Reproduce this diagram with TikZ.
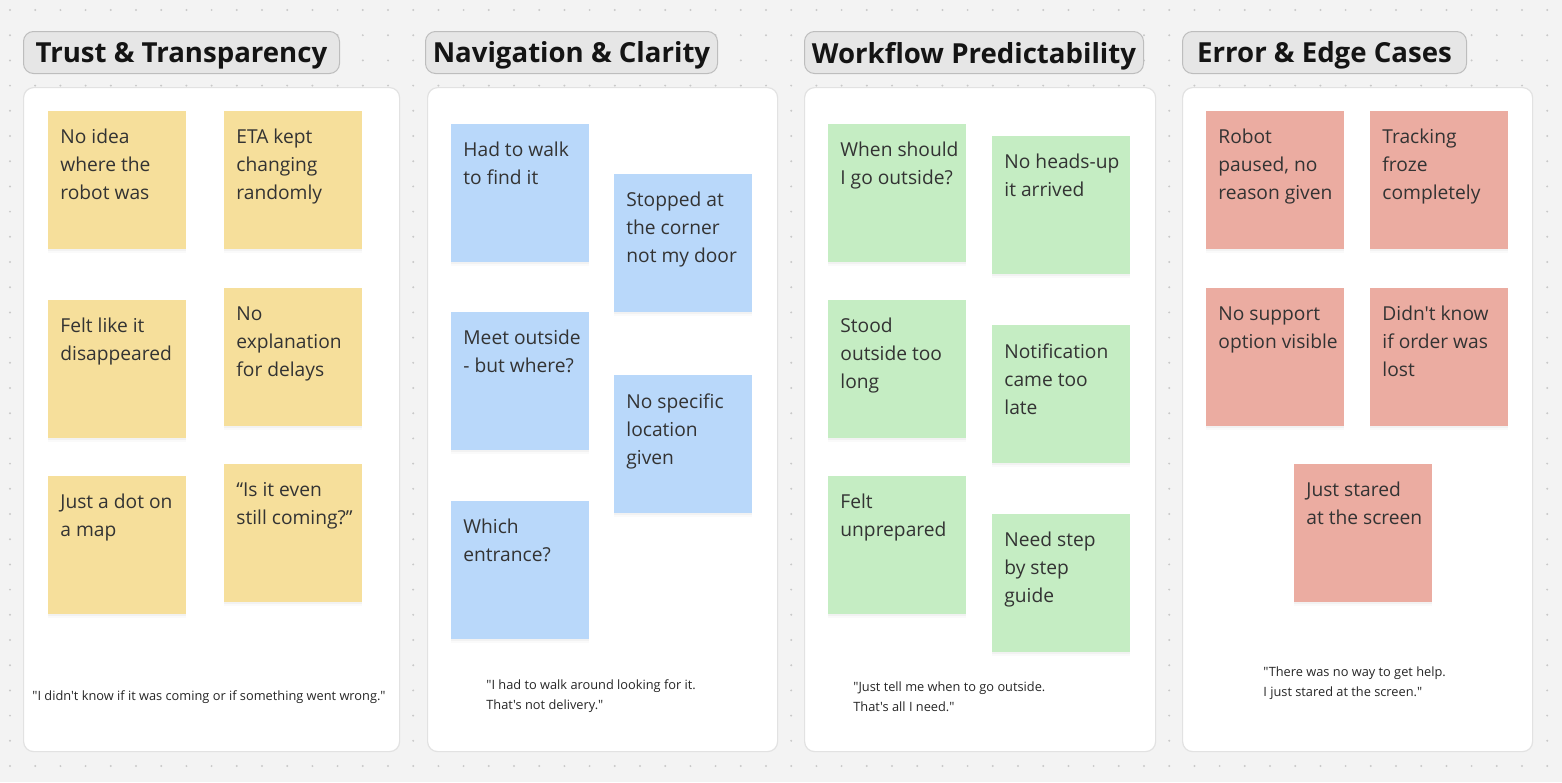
\documentclass[tikz,border=0pt]{standalone}
\usepackage{fontspec}
\setmainfont{Open Sans}[Ligatures=TeXOff]
\usetikzlibrary{positioning,calc,shadows}
\definecolor{canvas}{HTML}{F3F3F3}
\definecolor{griddot}{HTML}{C9C9C9}
\definecolor{hdrfill}{HTML}{E6E6E6}
\definecolor{hdrline}{HTML}{BDBDBD}
\definecolor{panelline}{HTML}{E2E2E2}
\definecolor{ink}{HTML}{333333}
\definecolor{ylw}{HTML}{F6DF9B}
\definecolor{blu}{HTML}{B9D8FA}
\definecolor{grn}{HTML}{C5EDC3}
\definecolor{red}{HTML}{EBACA1}
\tikzset{
  panel/.style={rectangle, rounded corners=5pt, draw=panelline, line width=0.6pt, fill=white,
                anchor=north west, minimum height=332pt, inner sep=0pt},
  hdr/.style={rectangle, rounded corners=5pt, draw=hdrline, line width=0.5pt, fill=hdrfill,
              anchor=north west, minimum height=21pt, inner sep=0pt, text depth=0pt,
              font=\fontsize{13.8pt}{16pt}\selectfont\bfseries, text=black!92},
  note/.style={rectangle, anchor=north west, minimum width=69pt, minimum height=69pt, inner sep=0pt,
               drop shadow={shadow xshift=0pt, shadow yshift=-1.6pt, opacity=0.04},
               drop shadow={shadow xshift=0pt, shadow yshift=-0.8pt, opacity=0.06}},
  notetxt/.style={anchor=north west, align=left, inner sep=0pt, text=ink,
                  font=\fontsize{9.6pt}{14pt}\selectfont},
  quote/.style={align=left, inner sep=0pt, text=black!85,
                font=\fontsize{6.4pt}{9.8pt}\selectfont},
}

\begin{document}
\begin{tikzpicture}[x=0.5pt, y=-0.5pt]

  % ============ canvas with dot grid ============
  \fill[canvas] (0,0) rectangle (1562,782);
  \useasboundingbox (0,0) rectangle (1562,782);
  \foreach \i in {0,...,61}
    \foreach \j in {0,...,30}
      \fill[griddot] (10+25.2*\i, 10+25.2*\j) circle (0.55pt);

  % ============ column panels and headers ============
  \node[panel, minimum width=188pt] (p1) at (23,87) {};
  \node[panel, minimum width=175pt] (p2) at (427,87) {};
  \node[panel, minimum width=175.5pt] (p3) at (804,87) {};
  \node[panel, minimum width=175pt] (p4) at (1182,87) {};

  \node[hdr, minimum width=158pt] (h1) at (23,31) {Trust \& Transparency};
  \node[hdr, minimum width=146pt] (h2) at (425,31) {Navigation \& Clarity};
  \node[hdr, minimum width=169.5pt] (h3) at (804,31) {Workflow Predictability};
  \node[hdr, minimum width=142pt] (h4) at (1182,31) {Error \& Edge Cases};

  % ============ trust & transparency ============
  \node[note, fill=ylw] (t1) at (48,111) {};
  \node[notetxt] (t1x) at ([shift={(6pt,-9pt)}]t1.north west) {No idea\\ where the\\ robot was};
  \node[note, fill=ylw] (t2) at (224,111) {};
  \node[notetxt] (t2x) at ([shift={(6pt,-9pt)}]t2.north west) {ETA kept\\ changing\\ randomly};
  \node[note, fill=ylw] (t3) at (48,300) {};
  \node[notetxt] (t3x) at ([shift={(6pt,-9pt)}]t3.north west) {Felt like it\\ disappeared};
  \node[note, fill=ylw] (t4) at (224,288) {};
  \node[notetxt] (t4x) at ([shift={(6pt,-9pt)}]t4.north west) {No\\ explanation\\ for delays};
  \node[note, fill=ylw] (t5) at (48,476) {};
  \node[notetxt] (t5x) at ([shift={(6pt,-9pt)}]t5.north west) {Just a dot on\\ a map};
  \node[note, fill=ylw] (t6) at (224,464) {};
  \node[notetxt] (t6x) at ([shift={(6pt,-9pt)}]t6.north west) {“Is it even\\ still coming?”};

  \node[quote] (q1) at (209,697) {"I didn't know if it was coming or if something went wrong."};

  % ============ navigation & clarity ============
  \node[note, fill=blu] (n1) at (451,124) {};
  \node[notetxt] (n1x) at ([shift={(6pt,-9pt)}]n1.north west) {Had to walk\\ to find it};
  \node[note, fill=blu] (n2) at (614,174) {};
  \node[notetxt] (n2x) at ([shift={(6pt,-9pt)}]n2.north west) {Stopped at\\ the corner\\ not my door};
  \node[note, fill=blu] (n3) at (451,312) {};
  \node[notetxt] (n3x) at ([shift={(6pt,-9pt)}]n3.north west) {Meet outside\\ - but where?};
  \node[note, fill=blu] (n4) at (614,375) {};
  \node[notetxt] (n4x) at ([shift={(6pt,-9pt)}]n4.north west) {No specific\\ location\\ given};
  \node[note, fill=blu] (n5) at (451,501) {};
  \node[notetxt] (n5x) at ([shift={(6pt,-9pt)}]n5.north west) {Which\\ entrance?};

  \node[quote, anchor=west] (q2) at (486,696) {"I had to walk around looking for it.\\ That's not delivery."};

  % ============ workflow predictability ============
  \node[note, fill=grn] (w1) at (828,124) {};
  \node[notetxt] (w1x) at ([shift={(6pt,-9pt)}]w1.north west) {When should\\ I go outside?};
  \node[note, fill=grn] (w2) at (992,136) {};
  \node[notetxt] (w2x) at ([shift={(6pt,-9pt)}]w2.north west) {No heads-up\\ it arrived};
  \node[note, fill=grn] (w3) at (828,300) {};
  \node[notetxt] (w3x) at ([shift={(6pt,-9pt)}]w3.north west) {Stood\\ outside too\\ long};
  \node[note, fill=grn] (w4) at (992,325) {};
  \node[notetxt] (w4x) at ([shift={(6pt,-9pt)}]w4.north west) {Notification\\ came too\\ late};
  \node[note, fill=grn] (w5) at (828,476) {};
  \node[notetxt] (w5x) at ([shift={(6pt,-9pt)}]w5.north west) {Felt\\ unprepared};
  \node[note, fill=grn] (w6) at (992,514) {};
  \node[notetxt] (w6x) at ([shift={(6pt,-9pt)}]w6.north west) {Need step\\ by step\\ guide};

  \node[quote, anchor=west] (q3) at (853,697) {"Just tell me when to go outside.\\ That's all I need."};

  % ============ error & edge cases ============
  \node[note, fill=red] (e1) at (1206,111) {};
  \node[notetxt] (e1x) at ([shift={(6pt,-9pt)}]e1.north west) {Robot\\ paused, no\\ reason given};
  \node[note, fill=red] (e2) at (1370,111) {};
  \node[notetxt] (e2x) at ([shift={(6pt,-9pt)}]e2.north west) {Tracking\\ froze\\ completely};
  \node[note, fill=red] (e3) at (1206,288) {};
  \node[notetxt] (e3x) at ([shift={(6pt,-9pt)}]e3.north west) {No support\\ option visible};
  \node[note, fill=red] (e4) at (1370,288) {};
  \node[notetxt] (e4x) at ([shift={(6pt,-9pt)}]e4.north west) {Didn't know\\ if order was\\ lost};
  \node[note, fill=red] (e5) at (1294,464) {};
  \node[notetxt] (e5x) at ([shift={(6pt,-9pt)}]e5.north west) {Just stared\\ at the screen};

  \node[quote, anchor=west] (q4) at (1263,683) {"There was no way to get help.\\ I just stared at the screen."};

\end{tikzpicture}
\end{document}
